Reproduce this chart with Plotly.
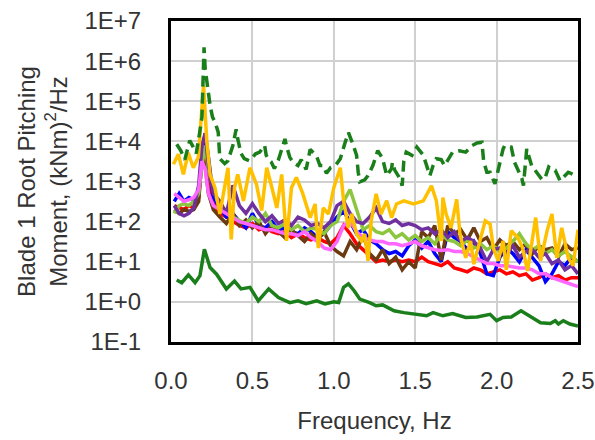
import plotly.graph_objects as go

# ---------------- data ----------------
F = [0.02, 0.05, 0.08, 0.11, 0.14, 0.17, 0.19, 0.21, 0.23, 0.26,
     0.30, 0.34, 0.38, 0.42, 0.46, 0.50, 0.54, 0.58, 0.62, 0.66,
     0.70, 0.74, 0.78, 0.82, 0.86, 0.90, 0.94, 0.98, 1.02, 1.06,
     1.10, 1.14, 1.18, 1.22, 1.26, 1.30, 1.34, 1.38, 1.42, 1.46,
     1.50, 1.54, 1.58, 1.62, 1.66, 1.70, 1.74, 1.78, 1.82, 1.86,
     1.90, 1.94, 1.98, 2.02, 2.06, 2.10, 2.14, 2.18, 2.22, 2.26,
     2.30, 2.34, 2.38, 2.42, 2.46, 2.50]

red = [250, 220, 200, 250, 220, 400, 3200, 6300, 1000, 280,
       160, 130, 100, 80, 70, 90, 63, 70, 56, 50,
       56, 40, 50, 40, 35, 40, 32, 28, 40, 80,
       50, 28, 20, 14, 10, 11, 10, 11, 10, 11,
       10, 13, 10, 9, 8, 10, 7, 6.3, 5.6, 7,
       6.3, 5, 5.6, 6.3, 5, 5.6, 4.5, 5, 3.5, 4,
       5, 4, 4.5, 3.5, 4, 4]

blue = [320, 500, 320, 400, 350, 500, 4000, 16000, 4000, 400,
        220, 130, 160, 100, 70, 160, 80, 70, 100, 63,
        70, 56, 50, 70, 56, 40, 50, 80, 130, 180,
        100, 50, 63, 35, 28, 20, 16, 18, 14, 25,
        35, 22, 32, 16, 10, 56, 40, 32, 20, 32,
        16, 5, 4.5, 13, 22, 16, 10, 20, 13, 8,
        3.2, 5, 10, 8, 13, 10]

brown = [200, 160, 200, 180, 200, 320, 4000, 2500, 500, 200,
         130, 90, 160, 80, 110, 70, 100, 50, 80, 56,
         40, 63, 45, 32, 50, 35, 56, 25, 18, 14,
         32, 20, 45, 16, 11, 20, 9, 13, 6.3, 10,
         7, 56, 40, 80, 11, 80, 50, 63, 35, 70,
         32, 40, 20, 35, 25, 32, 20, 28, 16, 25,
         20, 22, 13, 28, 20, 22]

light_green = [160, 250, 280, 250, 320, 500, 2500, 8000, 2000, 630,
               220, 200, 130, 110, 90, 130, 100, 160, 80, 70,
               90, 63, 80, 56, 70, 63, 50, 80, 100, 320,
               630, 200, 63, 80, 56, 50, 63, 40, 50, 35,
               45, 32, 40, 28, 50, 35, 32, 25, 35, 22,
               28, 20, 25, 18, 22, 32, 50, 28, 20, 25,
               16, 20, 14, 18, 13, 10]

purple = [250, 160, 140, 160, 220, 800, 8000, 16000, 2500, 500,
          320, 160, 800, 250, 160, 280, 160, 100, 140, 90,
          110, 80, 130, 110, 80, 90, 70, 100, 250, 320,
          160, 100, 90, 130, 220, 100, 90, 110, 80, 90,
          80, 63, 70, 50, 63, 40, 56, 32, 40, 32,
          22, 10, 20, 22, 16, 25, 13, 18, 20, 13,
          16, 9, 11, 6.3, 8, 5]

pink = [500, 400, 320, 350, 400, 630, 3200, 2000, 500, 250,
        200, 160, 130, 100, 90, 80, 70, 63, 63, 56,
        50, 50, 45, 56, 40, 32, 22, 20, 32, 80,
        100, 56, 40, 35, 32, 32, 28, 28, 25, 28,
        32, 25, 22, 20, 19, 20, 18, 18, 16, 13,
        11, 9, 9, 8, 8, 7.5, 7, 7, 6.3, 5,
        5, 4, 3.5, 3.2, 2.8, 2.4]

orange_f = [0.015, 0.045, 0.076, 0.106, 0.137, 0.168, 0.20, 0.22, 0.24, 0.27,
            0.30, 0.32, 0.35, 0.37, 0.39, 0.41, 0.445, 0.485, 0.525, 0.557,
            0.588, 0.62, 0.65, 0.68, 0.71, 0.74, 0.77, 0.81, 0.855, 0.885,
            0.905, 0.935, 0.967, 1.00, 1.04, 1.06, 1.09, 1.11, 1.14, 1.17,
            1.19, 1.21, 1.23, 1.26, 1.29, 1.325, 1.355, 1.385, 1.43, 1.49,
            1.55, 1.60, 1.63, 1.66, 1.67, 1.69, 1.72, 1.755, 1.775, 1.81,
            1.84, 1.86, 1.90, 1.93, 1.96, 1.98, 2.01, 2.04, 2.06, 2.09,
            2.13, 2.16, 2.19, 2.24, 2.27, 2.31, 2.34, 2.37, 2.40, 2.44,
            2.47, 2.49, 2.50]
orange = [2700, 4800, 1500, 5200, 2200, 4000, 250000, 10000, 1500, 700,
          155, 490, 2200, 36, 700, 1500, 330, 2200, 850, 190,
          2200, 700, 220, 1500, 33, 700, 1260, 490, 126, 275,
          22, 220, 155, 700, 2200, 330, 70, 155, 49, 33,
          49, 10.5, 105, 490, 155, 330, 126, 275, 330, 275,
          330, 780, 330, 33, 400, 155, 70, 360, 49, 12.6,
          33, 8.7, 33, 105, 87, 22, 10.5, 33, 6.3, 59,
          40, 22, 5.9, 126, 10.5, 59, 155, 12.6, 70, 12.6,
          8, 40, 63]

green_dash_f = [0.035, 0.06, 0.085, 0.115, 0.135, 0.155, 0.175, 0.19, 0.203, 0.21,
                0.22, 0.23, 0.24, 0.255, 0.27, 0.29, 0.295, 0.30, 0.33, 0.35,
                0.38, 0.40, 0.41, 0.43, 0.45, 0.48, 0.50, 0.52, 0.545, 0.575,
                0.585, 0.60, 0.615, 0.635, 0.66, 0.70, 0.71, 0.73, 0.75, 0.78,
                0.80, 0.83, 0.855, 0.875, 0.895, 0.915, 0.935, 0.955, 0.98, 1.01,
                1.04, 1.07, 1.09, 1.12, 1.14, 1.15, 1.16, 1.19, 1.21, 1.24,
                1.27, 1.30, 1.325, 1.355, 1.36, 1.375, 1.405, 1.42, 1.43, 1.445,
                1.48, 1.51, 1.53, 1.55, 1.59, 1.61, 1.63, 1.66, 1.68, 1.70,
                1.73, 1.77, 1.81, 1.85, 1.88, 1.91, 1.92, 1.94, 1.96, 1.99,
                2.02, 2.04, 2.05, 2.09, 2.11, 2.14, 2.155, 2.165, 2.185, 2.20,
                2.215, 2.25, 2.28, 2.30, 2.32, 2.34, 2.36, 2.39, 2.42, 2.44,
                2.47, 2.50]
green_dash = [8500, 5900, 3500, 10500, 7400, 5000, 15500, 40000, 2200000, 630000,
              320000, 140000, 79000, 40000, 31000, 17000, 6300, 3700, 2800, 3300,
              7900, 20000, 11500, 5000, 3700, 3300, 4000, 4900, 5400, 7900,
              4500, 3500, 3100, 2100, 3500, 11500, 7400, 4000, 3000, 2500,
              3500, 2000, 6300, 5000, 4200, 2500, 2500, 1600, 2200, 2500,
              3700, 9500, 16600, 7900, 4500, 1700, 980, 1100, 1400, 2500,
              5900, 3700, 1400, 2100, 3000, 1900, 1200, 790, 3200, 5400,
              4500, 7200, 5600, 4500, 1400, 2500, 3700, 3500, 2500, 3500,
              5400, 5800, 5400, 7900, 9100, 9500, 3300, 1700, 1700, 870,
              3000, 6500, 7900, 7200, 3000, 1500, 1200, 790, 6500, 4000,
              2500, 1600, 1100, 1300, 2300, 2000, 1900, 1050, 1400, 1700,
              1500, 1400]

green_solid_f = [0.035, 0.066, 0.107, 0.148, 0.178, 0.205, 0.24, 0.28, 0.34, 0.39,
                 0.43, 0.485, 0.536, 0.60, 0.66, 0.73, 0.78, 0.83, 0.895, 0.946,
                 1.00, 1.03, 1.06, 1.09, 1.125, 1.16, 1.22, 1.26, 1.30, 1.37,
                 1.43, 1.49, 1.57, 1.61, 1.67, 1.73, 1.81, 1.88, 1.96, 2.00,
                 2.04, 2.09, 2.15, 2.20, 2.27, 2.33, 2.36, 2.38, 2.41, 2.45,
                 2.50]
green_solid = [3.5, 3.0, 4.7, 3.0, 4.5, 20.5, 7.2, 4.9, 2.1, 3.3,
               2.1, 2.3, 1.06, 2.1, 1.28, 0.96, 1.06, 0.9, 1.06, 0.89,
               1.0, 0.96, 2.3, 2.8, 1.9, 1.17, 0.96, 0.8, 0.84, 0.6,
               0.54, 0.51, 0.45, 0.54, 0.45, 0.51, 0.41, 0.42, 0.49, 0.34,
               0.41, 0.42, 0.6, 0.45, 0.30, 0.29, 0.34, 0.28, 0.34, 0.28,
               0.25]

y_tick_vals = [0.1, 1, 10, 100, 1e3, 1e4, 1e5, 1e6, 1e7]
y_tick_text = ["1E-1", "1E+0", "1E+1", "1E+2", "1E+3", "1E+4", "1E+5", "1E+6", "1E+7"]
x_tick_vals = [0.0, 0.5, 1.0, 1.5, 2.0, 2.5]

# ---------------- figure ----------------
fig = go.Figure()

bundle = [
    ("Red", F, red, "#FF0000"),
    ("Blue", F, blue, "#0000FF"),
    ("Brown", F, brown, "#6B3A10"),
    ("Light green", F, light_green, "#8CC63F"),
    ("Purple", F, purple, "#7030A0"),
    ("Pink", F, pink, "#FF66FF"),
    ("Orange", orange_f, orange, "#FFC000"),
]
for name, xs, ys, col in bundle:
    fig.add_trace(go.Scatter(x=xs, y=ys, mode="lines", name=name,
                             line=dict(color=col, width=3.5)))

fig.add_trace(go.Scatter(x=green_dash_f, y=green_dash, mode="lines", name="Green dashed",
                         line=dict(color="#1A7F1A", width=3.5, dash="11px,6px")))
fig.add_trace(go.Scatter(x=green_solid_f, y=green_solid, mode="lines", name="Green solid",
                         line=dict(color="#1A7F1A", width=3.5)))

font_family = "Liberation Sans, Arial, sans-serif"
txt_col = "#333333"

fig.update_layout(
    width=595, height=440,
    margin=dict(l=171, r=17, t=21, b=98, autoexpand=False),
    paper_bgcolor="white", plot_bgcolor="white",
    showlegend=False,
    font=dict(family=font_family, size=24, color=txt_col),
)
fig.update_xaxes(
    range=[0, 2.5], tickvals=x_tick_vals, tickformat=".1f",
    showgrid=True, gridcolor="#D0D0D0", gridwidth=2,
    showline=True, linecolor="black", linewidth=3, mirror=True,
    ticks="outside", ticklen=15, tickcolor="rgba(0,0,0,0)",
    zeroline=False,
    title=dict(text="Frequency, Hz", standoff=20, font=dict(size=24)),
    tickfont=dict(size=24),
)
fig.update_yaxes(
    type="log", range=[-1, 7], tickvals=y_tick_vals, ticktext=y_tick_text,
    showgrid=True, gridcolor="#D0D0D0", gridwidth=2,
    showline=True, linecolor="black", linewidth=3, mirror=True,
    ticks="outside", ticklen=22, tickcolor="rgba(0,0,0,0)",
    zeroline=False,
    title=dict(text="Blade 1 Root Pitching<br>Moment, (kNm)<sup>2</sup>/Hz",
               standoff=11, font=dict(size=24)),
    tickfont=dict(size=24),
)

fig.write_html("out.html")
